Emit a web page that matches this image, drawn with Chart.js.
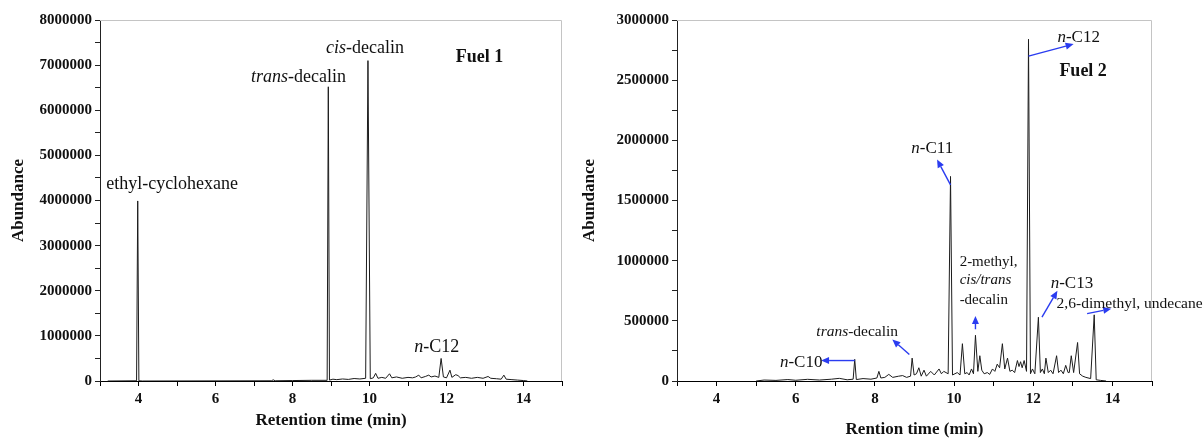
<!DOCTYPE html>
<html>
<head>
<meta charset="utf-8">
<script src="https://cdn.jsdelivr.net/npm/chart.js@4/dist/chart.umd.min.js"></script>
<style>
  body { margin: 0; background: #fff; width: 1203px; height: 438px; overflow: hidden; position: relative; }
  canvas { position: absolute; top: 0; }
  #c1 { left: 0; }
  #c2 { left: 575px; }
</style>
</head>
<body>
<canvas id="c1" width="580" height="438"></canvas>
<canvas id="c2" width="628" height="438"></canvas>
<script>
// chromatogram, fuel 1 (retention time in min, abundance)
var fuel1Time = [3.2, 3.95, 3.98, 4.01, 4.1, 7.45, 7.5, 7.55, 8.0, 8.5, 8.9, 8.93, 8.96, 9.05, 9.15, 9.3, 9.45, 9.6, 9.75, 9.9,
  9.96, 10.02, 10.1, 10.16, 10.22, 10.32, 10.42, 10.52, 10.58, 10.7, 10.85, 11.0, 11.12, 11.2, 11.28, 11.34, 11.45, 11.54, 11.6,
  11.7, 11.8, 11.86, 11.92, 12.0, 12.09, 12.14, 12.24, 12.3, 12.36, 12.5, 12.65, 12.8, 12.95, 13.08, 13.15, 13.3, 13.42, 13.49,
  13.55, 13.7, 13.85, 14.0, 14.1];
var fuel1Abund = [0, 5000, 3990000, 5000, 0, 5000, 25000, 5000, 10000, 15000, 15000, 6520000, 20000, 40000, 30000, 45000, 35000, 55000, 45000, 60000,
  7100000, 50000, 70000, 170000, 60000, 80000, 60000, 160000, 70000, 90000, 60000, 80000, 70000, 90000, 130000, 70000, 100000, 130000, 90000,
  110000, 80000, 500000, 90000, 70000, 240000, 80000, 140000, 120000, 70000, 80000, 60000, 80000, 60000, 100000, 60000, 50000, 40000, 130000,
  40000, 30000, 20000, 10000, 0];

// chromatogram, fuel 2
var fuel2Time = [5.0, 5.2, 5.5, 5.8, 6.0, 6.3, 6.6, 6.9, 7.1, 7.3, 7.45, 7.49, 7.53, 7.7, 7.9, 8.05, 8.1, 8.15, 8.25, 8.35,
  8.45, 8.6, 8.7, 8.8, 8.9, 8.94, 8.99, 9.05, 9.11, 9.17, 9.24, 9.3, 9.41, 9.5, 9.62, 9.68, 9.74, 9.85, 9.91, 9.96,
  10.08, 10.15, 10.21, 10.27, 10.33, 10.38, 10.44, 10.49, 10.54, 10.6, 10.65, 10.7, 10.76, 10.84, 10.9, 10.97, 11.03, 11.09, 11.15, 11.22,
  11.28, 11.35, 11.41, 11.47, 11.53, 11.6, 11.64, 11.68, 11.72, 11.77, 11.83, 11.88, 11.93, 11.98, 12.04, 12.13, 12.18, 12.23, 12.28, 12.32,
  12.38, 12.44, 12.5, 12.59, 12.64, 12.7, 12.76, 12.82, 12.88, 12.91, 12.96, 13.02, 13.12, 13.17, 13.25, 13.33, 13.45, 13.54, 13.59, 13.7, 13.84];
var fuel2Abund = [0, 8000, 5000, 12000, 6000, 14000, 8000, 15000, 22000, 10000, 15000, 180000, 12000, 20000, 15000, 25000, 80000, 25000, 30000, 55000,
  30000, 40000, 45000, 30000, 40000, 190000, 50000, 60000, 110000, 40000, 90000, 40000, 80000, 50000, 100000, 60000, 80000, 60000, 1700000, 50000,
  70000, 50000, 310000, 60000, 70000, 50000, 100000, 60000, 380000, 80000, 210000, 90000, 60000, 70000, 55000, 100000, 80000, 140000, 110000, 310000,
  100000, 190000, 80000, 90000, 70000, 170000, 120000, 160000, 110000, 170000, 80000, 2840000, 60000, 100000, 60000, 530000, 70000, 100000, 60000, 190000,
  70000, 90000, 60000, 210000, 70000, 90000, 60000, 130000, 70000, 70000, 210000, 70000, 320000, 60000, 40000, 30000, 20000, 550000, 10000, 5000, 0];

// peak names: [time, abundance, pieces of text ('' plain, 'i' italic, 'b' bold), font size]
var fuel1Notes = [
  [3.16, 4370000, [['ethyl-cyclohexane', '']], 18],
  [6.92, 6740000, [['trans', 'i'], ['-decalin', '']], 18],
  [8.87, 7380000, [['cis', 'i'], ['-decalin', '']], 18],
  [11.16, 740000, [['n', 'i'], ['-C12', '']], 18],
  [12.24, 7180000, [['Fuel 1', 'b']], 18]
];
var fuel2Notes = [
  [12.61, 2854000, [['n', 'i'], ['-C12', '']], 17],
  [12.66, 2570000, [['Fuel 2', 'b']], 18],
  [8.92, 1930000, [['n', 'i'], ['-C11', '']], 17],
  [10.14, 990000, [['2-methyl,', '']], 15],
  [10.14, 835000, [['cis/trans', 'i']], 15],
  [10.14, 676000, [['-decalin', '']], 15],
  [12.44, 810000, [['n', 'i'], ['-C13', '']], 17],
  [12.59, 640000, [['2,6-dimethyl, undecane', '']], 15.5],
  [6.52, 410000, [['trans', 'i'], ['-decalin', '']], 15.5],
  [5.6, 150000, [['n', 'i'], ['-C10', '']], 17]
];
// arrows: from (t, abundance) to (t, abundance)
var fuel2Arrows = [
  [11.88, 2700000, 13.02, 2800000],
  [9.91, 1630000, 9.57, 1840000],
  [10.54, 430000, 10.54, 540000],
  [12.22, 530000, 12.61, 750000],
  [13.36, 560000, 13.97, 600000],
  [8.87, 220000, 8.44, 345000],
  [7.49, 170000, 6.64, 170000]
];

var serif = "'Liberation Serif', 'Times New Roman', serif";

var notesPlugin = {
  id: 'notes',
  afterDatasetsDraw: function(chart, args, opts) {
    var ctx = chart.ctx, xs = chart.scales.x, ys = chart.scales.y, a = chart.chartArea;
    ctx.save();
    // light frame on top and right
    ctx.strokeStyle = '#c4c4c4';
    ctx.lineWidth = 1;
    ctx.beginPath();
    ctx.moveTo(a.left, Math.round(a.top) + 0.5);
    ctx.lineTo(Math.round(a.right) - 0.5, Math.round(a.top) + 0.5);
    ctx.lineTo(Math.round(a.right) - 0.5, a.bottom);
    ctx.stroke();

    // arrows
    ctx.strokeStyle = '#2a3cf0';
    ctx.fillStyle = '#2a3cf0';
    ctx.lineWidth = 1.4;
    (opts.arrows || []).forEach(function(ar) {
      var x1 = xs.getPixelForValue(ar[0]), y1 = ys.getPixelForValue(ar[1]);
      var x2 = xs.getPixelForValue(ar[2]), y2 = ys.getPixelForValue(ar[3]);
      var ang = Math.atan2(y2 - y1, x2 - x1);
      var hl = 8, hw = 3.5;
      ctx.beginPath();
      ctx.moveTo(x1, y1);
      ctx.lineTo(x2 - hl * Math.cos(ang), y2 - hl * Math.sin(ang));
      ctx.stroke();
      ctx.beginPath();
      ctx.moveTo(x2, y2);
      ctx.lineTo(x2 - hl * Math.cos(ang) - hw * Math.sin(ang), y2 - hl * Math.sin(ang) + hw * Math.cos(ang));
      ctx.lineTo(x2 - hl * Math.cos(ang) + hw * Math.sin(ang), y2 - hl * Math.sin(ang) - hw * Math.cos(ang));
      ctx.closePath();
      ctx.fill();
    });

    // peak names
    ctx.fillStyle = '#111';
    ctx.textBaseline = 'middle';
    ctx.textAlign = 'left';
    (opts.notes || []).forEach(function(n) {
      var x = xs.getPixelForValue(n[0]), y = ys.getPixelForValue(n[1]);
      n[2].forEach(function(p) {
        var st = p[1] == 'i' ? 'italic ' : (p[1] == 'b' ? 'bold ' : '');
        ctx.font = st + n[3] + 'px ' + serif;
        ctx.fillText(p[0], x, y);
        x += ctx.measureText(p[0]).width;
      });
    });
    ctx.restore();
  }
};

function makeChart(id, times, abund, o) {
  var pts = times.map(function(t, i) { return {x: t, y: abund[i]}; });
  return new Chart(document.getElementById(id).getContext('2d'), {
    type: 'scatter',
    data: {
      datasets: [{
        data: pts,
        showLine: true,
        borderColor: '#1c1c1c',
        borderWidth: 1,
        pointRadius: 0,
        tension: 0
      }]
    },
    plugins: [notesPlugin],
    options: {
      responsive: false,
      animation: false,
      devicePixelRatio: 1,
      layout: { padding: { left: 0, right: o.padRight, top: 20, bottom: 0 } },
      plugins: {
        legend: { display: false },
        tooltip: { enabled: false },
        notes: { notes: o.notes, arrows: o.arrows }
      },
      scales: {
        x: {
          type: 'linear',
          min: 3,
          max: 15,
          afterFit: function(s) { s.height = 57; },
          border: { display: true, color: '#000', width: 1 },
          grid: { drawOnChartArea: false, drawTicks: true, tickLength: 5, color: '#000' },
          ticks: {
            stepSize: 1,
            autoSkip: false,
            maxRotation: 0,
            padding: 4,
            color: '#111',
            font: { family: serif, size: 15, weight: 'bold' },
            callback: function(v) { return (v % 2 == 0 && v >= 4 && v <= 14) ? v : ''; }
          },
          title: {
            display: true,
            text: o.xTitle,
            color: '#111',
            padding: { top: 0, bottom: o.xTitlePad },
            font: { family: serif, size: 17, weight: 'bold' }
          }
        },
        y: {
          min: 0,
          max: o.ymax,
          afterFit: function(s) { s.width = o.yWidth; },
          border: { display: true, color: '#222', width: 1 },
          grid: { drawOnChartArea: false, drawTicks: true, tickLength: 5, color: '#222' },
          ticks: {
            stepSize: o.ystep,
            autoSkip: false,
            padding: 3,
            color: '#111',
            font: { family: serif, size: 15, weight: 'bold' },
            callback: function(v) { return (v % o.ylab == 0) ? String(v) : ''; }
          },
          title: {
            display: true,
            text: 'Abundance',
            color: '#111',
            padding: { top: o.yTitlePad, bottom: 0 },
            font: { family: serif, size: 17, weight: 'bold' }
          }
        }
      }
    }
  });
}

makeChart('c1', fuel1Time, fuel1Abund, {
  ymax: 8000000, ystep: 500000, ylab: 1000000, yWidth: 100, padRight: 18,
  xTitle: 'Retention time (min)', xTitlePad: 7, yTitlePad: 8,
  notes: fuel1Notes, arrows: []
});
makeChart('c2', fuel2Time, fuel2Abund, {
  ymax: 3000000, ystep: 250000, ylab: 500000, yWidth: 102, padRight: 51,
  xTitle: 'Rention time (min)', xTitlePad: -2, yTitlePad: 4,
  notes: fuel2Notes, arrows: fuel2Arrows
});
</script>
</body>
</html>
